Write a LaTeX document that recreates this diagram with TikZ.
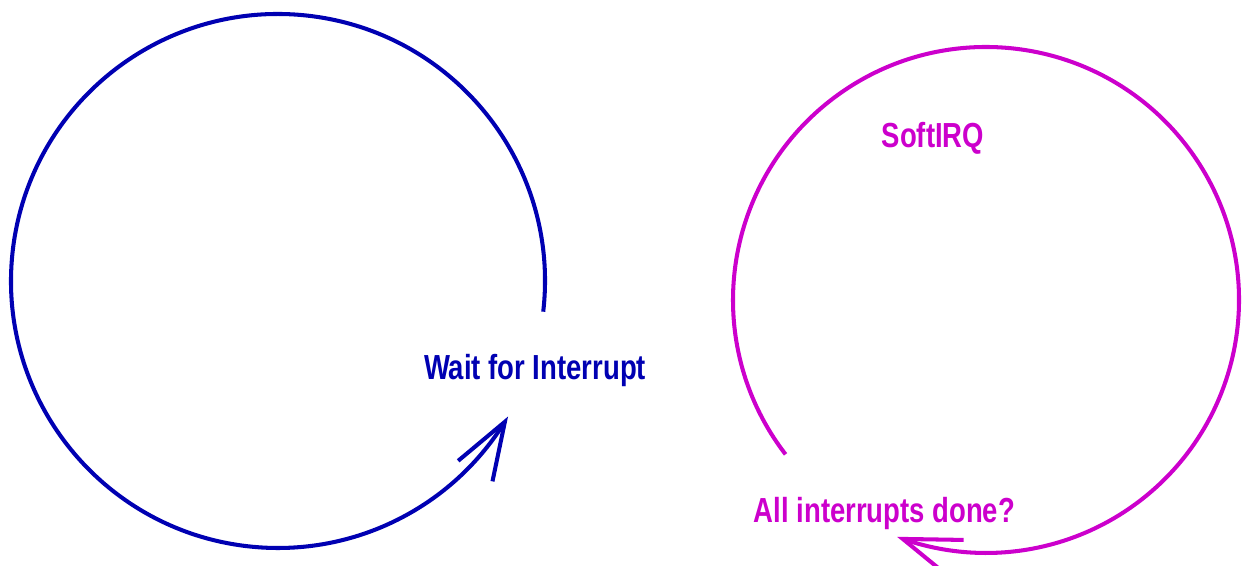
\documentclass[tikz,border=0pt]{standalone}
\usepackage{fontspec}
\newfontfamily\looplabelfont[FakeStretch=0.79]{Liberation Sans}
\usetikzlibrary{arrows.meta,bending}
\definecolor{waitblue}{RGB}{0,0,178}
\definecolor{softmag}{RGB}{204,0,204}

\begin{document}
\begin{tikzpicture}[scale=1,
    loopline/.style={line width=2.3pt},
    looptext/.style={font=\looplabelfont\bfseries\fontsize{19.8}{24}\selectfont, anchor=base, inner sep=0pt},
    barb/.style={-{Straight Barb[length=1.15cm,width=0.8cm]}}]

% fix picture size
\useasboundingbox (0,0) rectangle (24.86,11.32);

% circle centres
\coordinate (waitc) at (5.56,5.70);
\coordinate (softc) at (19.72,5.32);

% draw wait loop
\draw[loopline,barb,waitblue] ([shift={(-6.6:5.34)}]waitc) arc[start angle=-6.6, end angle=329.5, radius=5.34];
\node[looptext,text=waitblue] (wait) at (10.70,3.72) {Wait for Interrupt};

% draw softirq loop
\draw[loopline,barb,softmag] ([shift={(217.6:5.06)}]softc) arc[start angle=217.6, end angle=-110.6, radius=5.06];
\node[looptext,text=softmag] (soft) at (18.66,8.36) {SoftIRQ};
\node[looptext,text=softmag] (done) at (17.69,0.86) {All interrupts done?};

\end{tikzpicture}
\end{document}
